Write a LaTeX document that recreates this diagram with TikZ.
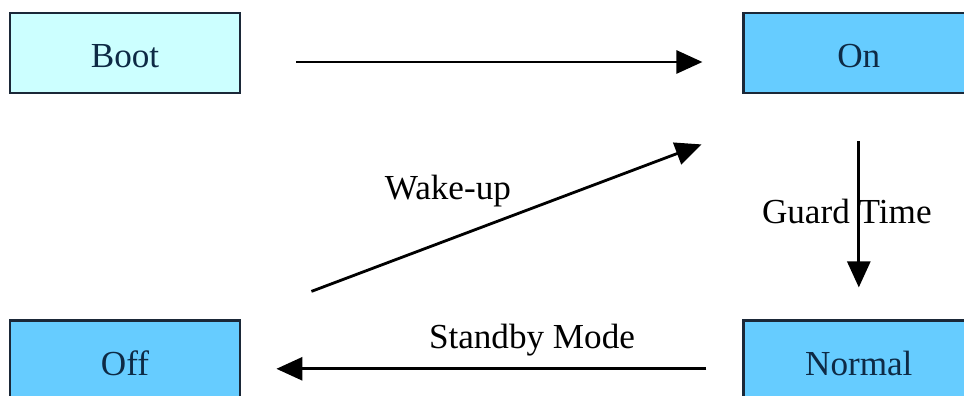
\documentclass[tikz,border=0pt]{standalone}
\usepackage{fontspec}
\setmainfont{Liberation Serif}
\usepackage{xcolor}
\usepackage{tikz}
\usetikzlibrary{arrows.meta,positioning}
\definecolor{framenavy}{HTML}{1B2838}
\definecolor{bootcyan}{HTML}{CCFFFF}
\definecolor{stateblue}{HTML}{66CCFF}
\definecolor{textnavy}{HTML}{0E2A45}

\begin{document}
\begin{tikzpicture}[
    font=\fontsize{20}{24}\selectfont,
    state/.style={draw=framenavy, line width=1.6pt, fill=stateblue, text=textnavy,
                  minimum width=4.6cm, minimum height=1.6cm, align=center,
                  text height=0.6cm, text depth=0cm},
    bootstate/.style={state, fill=bootcyan},
    arrow/.style={-{Triangle[length=0.52cm,width=0.46cm]}, line width=1.6pt}
]
    \clip (0,0) rectangle (19.28,-7.92);
    \fill[white] (0,0) rectangle (19.28,-7.92);
    \node[bootstate] (boot) at (2.5,-1.06) {Boot};
    \node[state, right=10.02cm of boot] (on) {On};
    \node[state, below=4.5cm of boot] (off) {Off};
    \node[state, below=4.5cm of on] (normal) {Normal};
    \draw[arrow, shorten <=1.1cm, shorten >=0.8cm]
        ([yshift=-0.18cm]boot.east) -- ([yshift=-0.18cm]on.west);
    \draw[arrow, shorten <=0.94cm, shorten >=0.64cm] (on.south) --
        node[pos=0.52, xshift=-0.24cm]{Guard Time} (normal.north);
    \draw[arrow, shorten <=0.72cm, shorten >=0.7cm]
        ([yshift=-0.16cm]normal.west) --
        node[pos=0.42, yshift=0.58cm]{Standby Mode} ([yshift=-0.16cm]off.east);
    \draw[arrow] ([shift={(1.4,0.56)}]off.north east) --
        node[pos=0.35, yshift=0.98cm]{Wake-up} ([shift={(-0.82,-1.0)}]on.south west);
\end{tikzpicture}
\end{document}
